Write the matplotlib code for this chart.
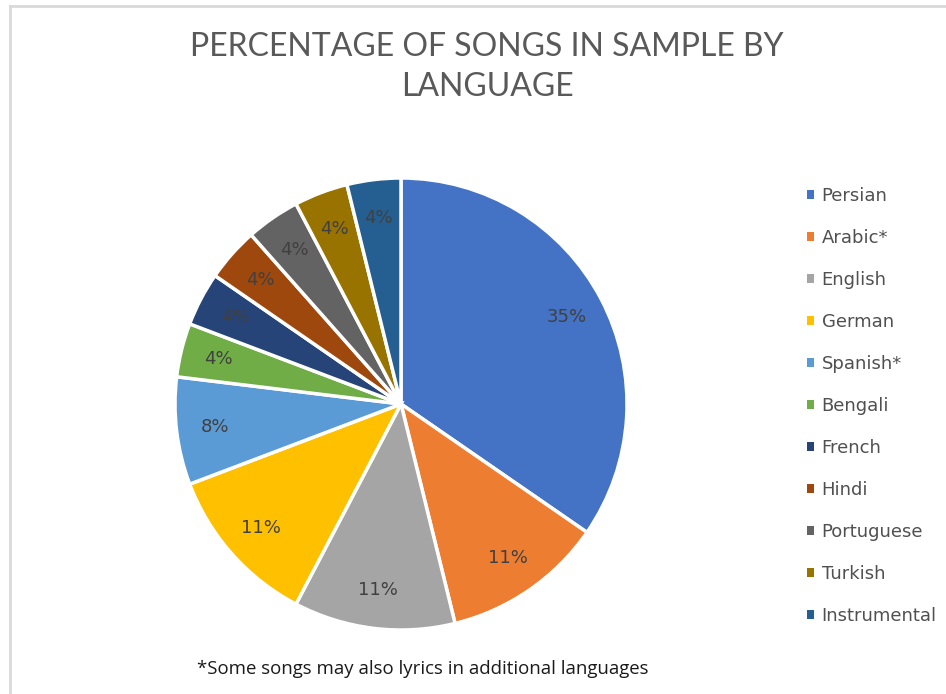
import matplotlib.pyplot as plt
from matplotlib.lines import Line2D

# Datos: número de canciones por idioma (muestra de 26 canciones)
languages = ["Persian", "Arabic*", "English", "German", "Spanish*", "Bengali",
             "French", "Hindi", "Portuguese", "Turkish", "Instrumental"]
song_counts = [9, 3, 3, 3, 2, 1, 1, 1, 1, 1, 1]
# Etiquetas tal como aparecen en el gráfico original
pct_labels = ["35%", "11%", "11%", "11%", "8%", "4%", "4%", "4%", "4%", "4%", "4%"]
colors = ["#4472C4", "#ED7D31", "#A5A5A5", "#FFC000", "#5B9BD5", "#70AD47",
          "#264478", "#9E480E", "#636363", "#997300", "#255E91"]

fig = plt.figure(figsize=(9.46, 6.94), dpi=100)

# Borde gris del área del gráfico
fig.add_artist(Line2D([10 / 946, 10 / 946], [0, 1 - 6 / 694], transform=fig.transFigure,
                      color="#d9d9d9", linewidth=2))
fig.add_artist(Line2D([10 / 946, 1], [1 - 6 / 694, 1 - 6 / 694], transform=fig.transFigure,
                      color="#d9d9d9", linewidth=2))

ax = fig.add_axes([175 / 946, 64 / 694, 452 / 946, 452 / 694])
wedges, texts, autotexts = ax.pie(
    song_counts, colors=colors, startangle=90, counterclock=False,
    autopct="%1.0f%%", pctdistance=0.83,
    wedgeprops=dict(edgecolor="white", linewidth=2.5),
    textprops=dict(color="#404040", fontsize=13, family="DejaVu Sans"))
for t, lab in zip(autotexts, pct_labels):
    t.set_text(lab)
ax.set_xlim(-1, 1)
ax.set_ylim(-1, 1)
ax.set_aspect("equal")

fig.text(0.515, 1 - 67 / 694, "PERCENTAGE OF SONGS IN SAMPLE BY\nLANGUAGE",
         ha="center", va="center", fontsize=23, color="#595959",
         family="Lato", linespacing=1.38)

leg = fig.legend(wedges, languages, loc="upper left", bbox_to_anchor=(800 / 946, 1 - 180 / 694),
                 frameon=False, handlelength=0.4, handleheight=0.4, handletextpad=0.4,
                 labelspacing=1.33, prop=dict(family="DejaVu Sans", size=13),
                 labelcolor="#505050", borderaxespad=0)
for h in leg.legend_handles:
    h.set_linewidth(0)

fig.text(197 / 946, 1 - 669 / 694, "*Some songs may also lyrics in additional languages",
         ha="left", va="center", fontsize=13.4, color="#1a1a1a", family="Open Sans")

fig.savefig("out.png", dpi=100)
plt.close(fig)
